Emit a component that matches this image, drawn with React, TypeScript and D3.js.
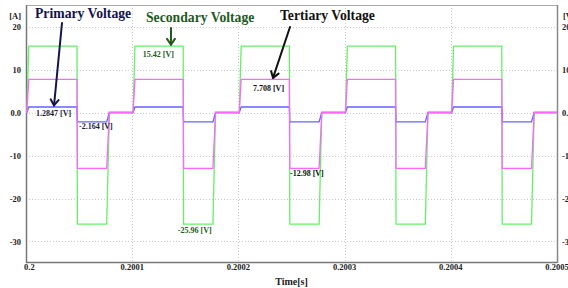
import React from "react";
import * as d3 from "d3";

const W = 568;
const H = 288;
const PLOT = { left: 26, right: 557, top: 5, bottom: 263 };

// one switching cycle per 0.0001 s, edge times in microseconds after the cycle start
const cycleStarts = [0.2, 0.2001, 0.2002, 0.2003, 0.2004];
const edgeTimesUs = [0.8, 2.6, 48, 48.4, 76, 78.5, 100];

// level at each edge: 0 -> high -> high -> low -> low -> 0 -> 0
const primaryLevels = [0, 1.2847, 1.2847, -2.164, -2.164, 0, 0];
const secondaryLevels = [0, 15.42, 15.42, -25.96, -25.96, 0, 0];
const tertiaryLevels = [0, 7.708, 7.708, -12.98, -12.98, 0, 0];

const xTicks = [0.2, 0.2001, 0.2002, 0.2003, 0.2004, 0.2005];
const xTickLabels = ["0.2", "0.2001", "0.2002", "0.2003", "0.2004", "0.2005"];
const yTicks = [20, 10, 0, -10, -20, -30];
const yTickLabels = ["20", "10", "0.0", "-10", "-20", "-30"];

const GREEN = "#66f066";
const MAGENTA = "#ff66ff";
const BLUE = "#6464ff";
const DARK_GREEN = "#1e5a1e";
const NAVY = "#14144a";

const FONT = "'Liberation Serif', 'Times New Roman', serif";

type Pt = { t: number; v: number };

const buildSeries = (levels: number[]): Pt[] => {
  const pts: Pt[] = [{ t: 0.2, v: 0 }];
  cycleStarts.forEach((c) => {
    edgeTimesUs.forEach((us, i) => {
      pts.push({ t: c + us * 1e-6, v: levels[i] });
    });
  });
  return pts;
};

// value labels: anchored on a level, shifted in px
const valueLabels = [
  { text: "1.2847 [V]", t: 0.2000094, v: 1.2847, dy: 9, color: "#1a1a2e" },
  { text: "-2.164 [V]", t: 0.2000499, v: -2.164, dy: 7.5, color: "#1a1a2e" },
  { text: "15.42 [V]", t: 0.200110, v: 15.42, dy: 11, color: DARK_GREEN },
  { text: "7.708 [V]", t: 0.2002137, v: 7.708, dy: 11.5, color: "#111" },
  { text: "-25.96 [V]", t: 0.200143, v: -25.96, dy: 9, color: DARK_GREEN },
  { text: "-12.98 [V]", t: 0.2002486, v: -12.98, dy: 8, color: "#111" },
];

// callouts: title text + arrow pointing at a level
const callouts = [
  { text: "Primary Voltage", x: 35, y: 18, color: NAVY, from: [62, 23], t: 0.2000264, v: 1.2847 },
  { text: "Secondary Voltage", x: 146, y: 22, color: DARK_GREEN, from: [171, 28], t: 0.2001365, v: 15.42 },
  { text: "Tertiary Voltage", x: 280, y: 20, color: "#111", from: [290, 27], t: 0.2002326, v: 7.708 },
];

const Arrow = ({ x1, y1, x2, y2, color }: { x1: number; y1: number; x2: number; y2: number; color: string }) => {
  const a = Math.atan2(y2 - y1, x2 - x1);
  const len = 7;
  const spread = 0.6;
  const p1 = [x2 - len * Math.cos(a - spread), y2 - len * Math.sin(a - spread)];
  const p2 = [x2 - len * Math.cos(a + spread), y2 - len * Math.sin(a + spread)];
  return (
    <g stroke={color} strokeWidth={2} fill="none" strokeLinecap="round" strokeLinejoin="round">
      <line x1={x1} y1={y1} x2={x2} y2={y2} />
      <polyline points={`${p1[0]},${p1[1]} ${x2},${y2} ${p2[0]},${p2[1]}`} />
    </g>
  );
};

export default function App() {
  const x = d3.scaleLinear().domain([0.2, 0.2005]).range([PLOT.left, PLOT.right]);
  const y = d3.scaleLinear().domain([-35, 25]).range([PLOT.bottom, PLOT.top]);

  const line = d3
    .line<Pt>()
    .x((d) => x(d.t))
    .y((d) => y(d.v));

  const series = [
    { levels: secondaryLevels, color: GREEN },
    { levels: primaryLevels, color: BLUE },
    { levels: tertiaryLevels, color: MAGENTA },
  ];

  return (
    <svg
      width={W}
      height={H}
      style={{ position: "absolute", left: 0, top: 0, background: "#fff" }}
      fontFamily={FONT}
      fontWeight="bold"
    >
      <defs>
        <clipPath id="plot">
          <rect x={PLOT.left} y={PLOT.top} width={PLOT.right - PLOT.left} height={PLOT.bottom - PLOT.top} />
        </clipPath>
      </defs>

      {/* grid */}
      <g stroke="#c8c8c8" strokeWidth={1} strokeDasharray="1,2">
        {yTicks.map((t) => (
          <line key={"gy" + t} x1={PLOT.left} x2={PLOT.right} y1={Math.round(y(t)) + 0.5} y2={Math.round(y(t)) + 0.5} />
        ))}
        {xTicks.slice(1, -1).map((t) => (
          <line key={"gx" + t} x1={Math.round(x(t)) + 0.5} x2={Math.round(x(t)) + 0.5} y1={PLOT.top} y2={PLOT.bottom} />
        ))}
      </g>

      {/* frame */}
      <line x1={PLOT.left} x2={PLOT.right} y1={PLOT.top + 0.5} y2={PLOT.top + 0.5} stroke="#aaa" />
      <line x1={PLOT.left + 0.5} x2={PLOT.left + 0.5} y1={PLOT.top} y2={PLOT.bottom} stroke="#777" strokeWidth={1.5} />
      <line x1={PLOT.left} x2={PLOT.right} y1={PLOT.bottom - 0.5} y2={PLOT.bottom - 0.5} stroke="#777" strokeWidth={1.5} />
      <line x1={PLOT.right + 0.5} x2={PLOT.right + 0.5} y1={PLOT.top} y2={PLOT.bottom} stroke="#888" strokeWidth={1.5} />

      {/* waveforms */}
      <g clipPath="url(#plot)" fill="none" strokeWidth={1.3}>
        {series.map((s, i) => (
          <path key={i} d={line(buildSeries(s.levels)) || ""} stroke={s.color} />
        ))}
      </g>

      {/* left axis labels */}
      <g fontSize={8.5} fill="#222" textAnchor="end">
        <text x={21} y={19}>[A]</text>
        {yTicks.map((t, i) => (
          <text key={t} x={21} y={y(t) + 3}>
            {yTickLabels[i]}
          </text>
        ))}
      </g>

      {/* right axis labels (cut by the window edge, as in the original) */}
      <g fontSize={8.5} fill="#222" textAnchor="start">
        <text x={563} y={19}>[V]</text>
        {yTicks.map((t, i) => (
          <text key={t} x={562} y={y(t) + 3}>
            {yTickLabels[i]}
          </text>
        ))}
      </g>

      {/* x axis labels */}
      <g fontSize={8.5} fill="#222">
        {xTicks.map((t, i) => (
          <text key={t} x={x(t) + (i === 0 ? -2 : 0)} y={270} textAnchor={i === 0 ? "start" : "middle"}>
            {xTickLabels[i]}
          </text>
        ))}
        <text x={(PLOT.left + PLOT.right) / 2} y={285} fontSize={10} textAnchor="middle">
          Time[s]
        </text>
      </g>

      {/* value labels */}
      <g fontSize={8}>
        {valueLabels.map((l) => (
          <text key={l.text} x={x(l.t)} y={y(l.v) + l.dy} fill={l.color}>
            {l.text}
          </text>
        ))}
      </g>

      {/* callouts */}
      {callouts.map((c) => (
        <g key={c.text}>
          <text x={c.x} y={c.y} fontSize={13.7} fill={c.color}>
            {c.text}
          </text>
          <Arrow x1={c.from[0]} y1={c.from[1]} x2={x(c.t)} y2={y(c.v) - 1.5} color={c.color} />
        </g>
      ))}
    </svg>
  );
}
